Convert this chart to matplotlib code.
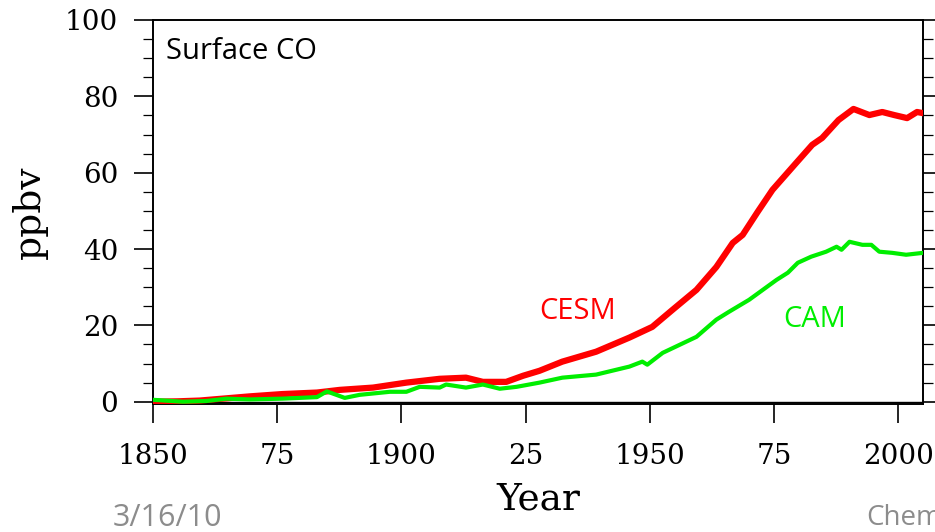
import matplotlib
matplotlib.use("Agg")
import matplotlib.pyplot as plt
from matplotlib.ticker import MultipleLocator

# CESM surface CO (ppbv)
cesm_year = [1850, 1855, 1859.4, 1864, 1869.5, 1876, 1883, 1887.6, 1894.3, 1901,
             1907.7, 1913, 1916.4, 1921.1, 1924.5, 1927.8, 1932.4, 1939.2, 1945.9,
             1950.5, 1954.6, 1959.4, 1963.4, 1966.7, 1968.7, 1971.7, 1974.7, 1979.5,
             1982.7, 1984.7, 1988, 1991, 1994.2, 1996.8, 1999.2, 2001.8, 2003.8, 2005]
cesm_val = [0, 0.1, 0.3, 0.8, 1.4, 2.0, 2.4, 3.1, 3.7, 5.0,
            6.0, 6.3, 5.2, 5.2, 6.8, 8.1, 10.5, 13.1, 16.8,
            19.6, 24.1, 29.3, 35.3, 41.6, 43.7, 49.7, 55.5, 62.6,
            67.3, 69.1, 73.8, 76.7, 75.1, 75.9, 75.1, 74.3, 75.9, 75.6]

# CAM surface CO (ppbv)
cam_year = [1850, 1856, 1860.8, 1864.8, 1869.5, 1876, 1883, 1885, 1888.6, 1891.6,
            1897.7, 1901, 1903.7, 1907.7, 1909, 1913, 1916.4, 1919.8, 1923.2, 1927.8,
            1932.4, 1939.2, 1945.9, 1948.5, 1949.5, 1952.6, 1956, 1959.4, 1963.4, 1966,
            1970, 1975.5, 1977.8, 1979.8, 1982.5, 1985.5, 1987.6, 1988.6, 1990.2,
            1992.8, 1994.6, 1996.2, 1998.8, 2001.6, 2005]
cam_val = [0.5, 0.0, 0.2, 0.8, 0.6, 0.8, 1.2, 2.7, 1.0, 1.8,
           2.6, 2.6, 3.9, 3.7, 4.5, 3.7, 4.5, 3.4, 3.9, 5.0,
           6.3, 7.1, 9.2, 10.5, 9.7, 12.8, 14.9, 17.0, 21.5, 23.6,
           26.7, 31.9, 33.8, 36.4, 38.0, 39.3, 40.6, 39.8, 41.9,
           41.1, 41.1, 39.3, 39.0, 38.5, 39.0]

xticks = [1850, 1875, 1900, 1925, 1950, 1975, 2000]
xticklabels = ["1850", "75", "1900", "25", "1950", "75", "2000"]

serif = "DejaVu Serif"
sans = "Open Sans"

fig = plt.figure(figsize=(9.35, 5.32), dpi=100)
ax = fig.add_axes([153/935, 1 - 404/532, 770/935, 384/532])

ax.plot(cesm_year, cesm_val, color="#ff0000", lw=4.5, solid_joinstyle="round", zorder=3)
ax.plot(cam_year, cam_val, color="#00ee00", lw=3.0, solid_joinstyle="round", zorder=4)
ax.axhline(0, color="black", lw=1.0, zorder=2)

ax.set_xlim(1850, 2005)
ax.set_ylim(-0.6, 100)
ax.set_xticks(xticks)
ax.set_xticklabels(xticklabels)
ax.yaxis.set_major_locator(MultipleLocator(20))
ax.yaxis.set_minor_locator(MultipleLocator(5))

for s in ax.spines.values():
    s.set_linewidth(1.4)
ax.tick_params(axis="x", which="major", direction="out", length=14, width=1.2,
               pad=14, labelsize=20)
ax.tick_params(axis="y", which="major", direction="out", length=14, width=1.2,
               pad=11, labelsize=20, right=True)
ax.tick_params(axis="y", which="minor", direction="out", length=7, width=0.9, right=True)
for lab in ax.get_xticklabels() + ax.get_yticklabels():
    lab.set_family(serif)

ax.set_xlabel("Year", family=serif, fontsize=27, labelpad=8)
ax.set_ylabel("ppbv", family=serif, fontsize=27, labelpad=12)

ax.text(0.017, 0.918, "Surface CO", transform=ax.transAxes, family=sans,
        fontsize=21, color="black", va="center", ha="left")
ax.text(1935.5, 23.6, "CESM", family=sans, fontsize=21, color="#ff0000", ha="center", va="center")
ax.text(1983.2, 21.5, "CAM", family=sans, fontsize=21, color="#00ee00", ha="center", va="center")

fig.text(113/935, 1 - 518/532, "3/16/10", family=sans, fontsize=22,
         color="#8c8c8c", ha="left", va="center")
fig.text(866/935, 1 - 518/532, "Chem", family=sans, fontsize=20,
         color="#8c8c8c", ha="left", va="center")

fig.savefig("out.png", dpi=100)
